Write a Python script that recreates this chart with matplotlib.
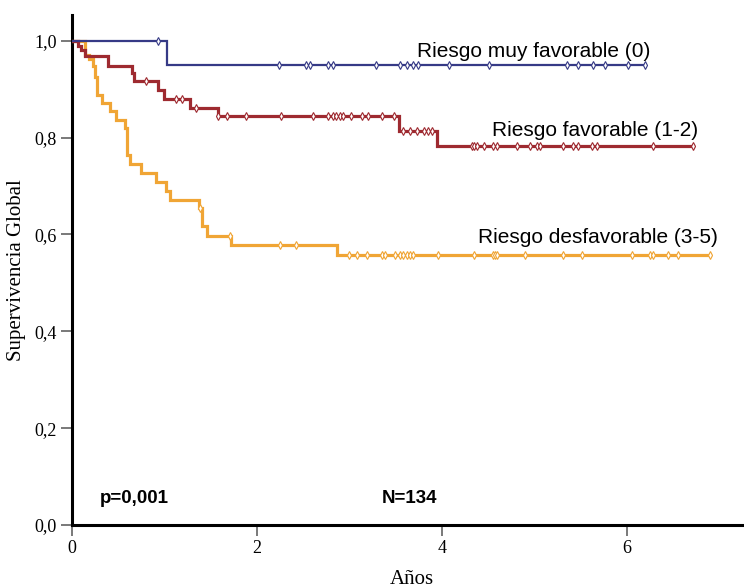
"""Kaplan-Meier de supervivencia global por grupo de riesgo (N=134)."""
import numpy as np
import matplotlib
matplotlib.use("Agg")
import matplotlib.pyplot as plt

# --- datos ---------------------------------------------------------------
# Riesgo muy favorable (0)
BLUE_T = [0.0, 1.03]
BLUE_S = [1.0, 0.95]
BLUE_CENS = [0.93, 2.24, 2.53, 2.57, 2.77, 2.82, 3.29, 3.54, 3.62, 3.69, 3.74,
             4.07, 4.51, 5.35, 5.47, 5.63, 5.76, 6.01, 6.19]

# Riesgo favorable (1-2)
RED_T = [0.0, 0.07, 0.10, 0.14, 0.39, 0.65, 0.67, 0.93, 0.99, 1.28, 1.58,
         3.53, 3.95]
RED_S = [1.0, 0.99, 0.98, 0.968, 0.948, 0.933, 0.916, 0.899, 0.880, 0.862,
         0.844, 0.814, 0.782]
RED_CENS = [0.80, 1.12, 1.19, 1.34, 1.58, 1.68, 1.88, 2.26, 2.61, 2.77, 2.82,
            2.85, 2.90, 2.93, 3.02, 3.13, 3.20, 3.35, 3.48, 3.58, 3.65, 3.73,
            3.80, 3.85, 3.89, 4.32, 4.35, 4.38, 4.45, 4.55, 4.59, 4.81, 4.95,
            5.03, 5.06, 5.31, 5.42, 5.47, 5.62, 5.68, 6.28, 6.71]

# Riesgo desfavorable (3-5)
ORANGE_T = [0.0, 0.14, 0.18, 0.23, 0.25, 0.27, 0.32, 0.41, 0.48, 0.57, 0.59,
            0.63, 0.75, 0.91, 1.02, 1.06, 1.37, 1.40, 1.46, 1.72, 2.86]
ORANGE_S = [1.0, 0.970, 0.962, 0.947, 0.925, 0.888, 0.872, 0.854, 0.837,
            0.820, 0.764, 0.746, 0.727, 0.709, 0.690, 0.671, 0.655, 0.617,
            0.597, 0.578, 0.558]
ORANGE_CENS = [1.38, 1.71, 2.25, 2.42, 2.99, 3.08, 3.19, 3.35, 3.38, 3.49,
               3.54, 3.58, 3.62, 3.65, 3.69, 3.96, 4.34, 4.55, 4.57, 4.59,
               4.90, 5.31, 5.51, 6.05, 6.25, 6.28, 6.44, 6.55, 6.90]

LABELS = ["Riesgo muy favorable (0)", "Riesgo favorable (1-2)",
          "Riesgo desfavorable (3-5)"]
Y_TICKS = [0.0, 0.2, 0.4, 0.6, 0.8, 1.0]
X_TICKS = [0, 2, 4, 6]

SERIF = ["Liberation Serif", "DejaVu Serif"]
SANS = ["Liberation Sans", "DejaVu Sans"]


def surv_at(times, surv, t):
    idx = np.searchsorted(times, t, side="right") - 1
    return np.asarray(surv)[idx]


def km(ax, times, surv, cens, color, lw):
    t_end = max(cens)
    tt = list(times) + [t_end]
    ss = list(surv) + [surv[-1]]
    ax.step(tt, ss, where="post", color=color, lw=lw, solid_joinstyle="miter",
            zorder=3)
    ax.plot(cens, surv_at(times, surv, cens), ls="none", marker="d",
            ms=4.2, mfc="white", mec=color, mew=0.8, zorder=4)


fig = plt.figure(figsize=(7.44, 5.88), dpi=100)
# axes extends a bit past the right border, as in the original
ax = fig.add_axes([72 / 744, 1 - 525 / 588, 680 / 744, 510 / 588])

km(ax, ORANGE_T, ORANGE_S, ORANGE_CENS, "#f0a535", 2.3)
km(ax, RED_T, RED_S, RED_CENS, "#9e2a30", 2.3)
km(ax, BLUE_T, BLUE_S, BLUE_CENS, "#363a86", 1.6)

ax.set_xlim(0, 7.35)
ax.set_ylim(0, 1.053)
ax.set_xticks(X_TICKS)
ax.set_yticks(Y_TICKS)
ax.set_yticklabels([f"{v:.1f}".replace(".", ",") for v in Y_TICKS])
for lab in ax.get_xticklabels() + ax.get_yticklabels():
    lab.set_family(SERIF)
    lab.set_fontsize(13)
ax.tick_params(direction="out", length=8, width=1.1, color="#555555",
               pad=3)

for s in ("top", "right"):
    ax.spines[s].set_visible(False)
for s in ("left", "bottom"):
    ax.spines[s].set_linewidth(2.2)
    ax.spines[s].set_color("black")

ax.set_ylabel("Supervivencia Global", family=SERIF, fontsize=15)
ax.yaxis.set_label_coords(-0.068, 0.5)
ax.set_xlabel("Años", family=SERIF, fontsize=15)
ax.xaxis.set_label_coords(0.5, -0.088)

ax.text(3.73, 0.977, LABELS[0], family=SANS, fontsize=15, va="center")
ax.text(4.54, 0.814, LABELS[1], family=SANS, fontsize=15, va="center")
ax.text(4.39, 0.593, LABELS[2], family=SANS, fontsize=15, va="center")

ax.text(0.30, 0.054, "p=0,001", family=SANS, fontsize=13.5,
        fontweight="bold", va="center")
ax.text(3.35, 0.054, "N=134", family=SANS, fontsize=13.5,
        fontweight="bold", va="center")

fig.savefig("out.png", dpi=100)
